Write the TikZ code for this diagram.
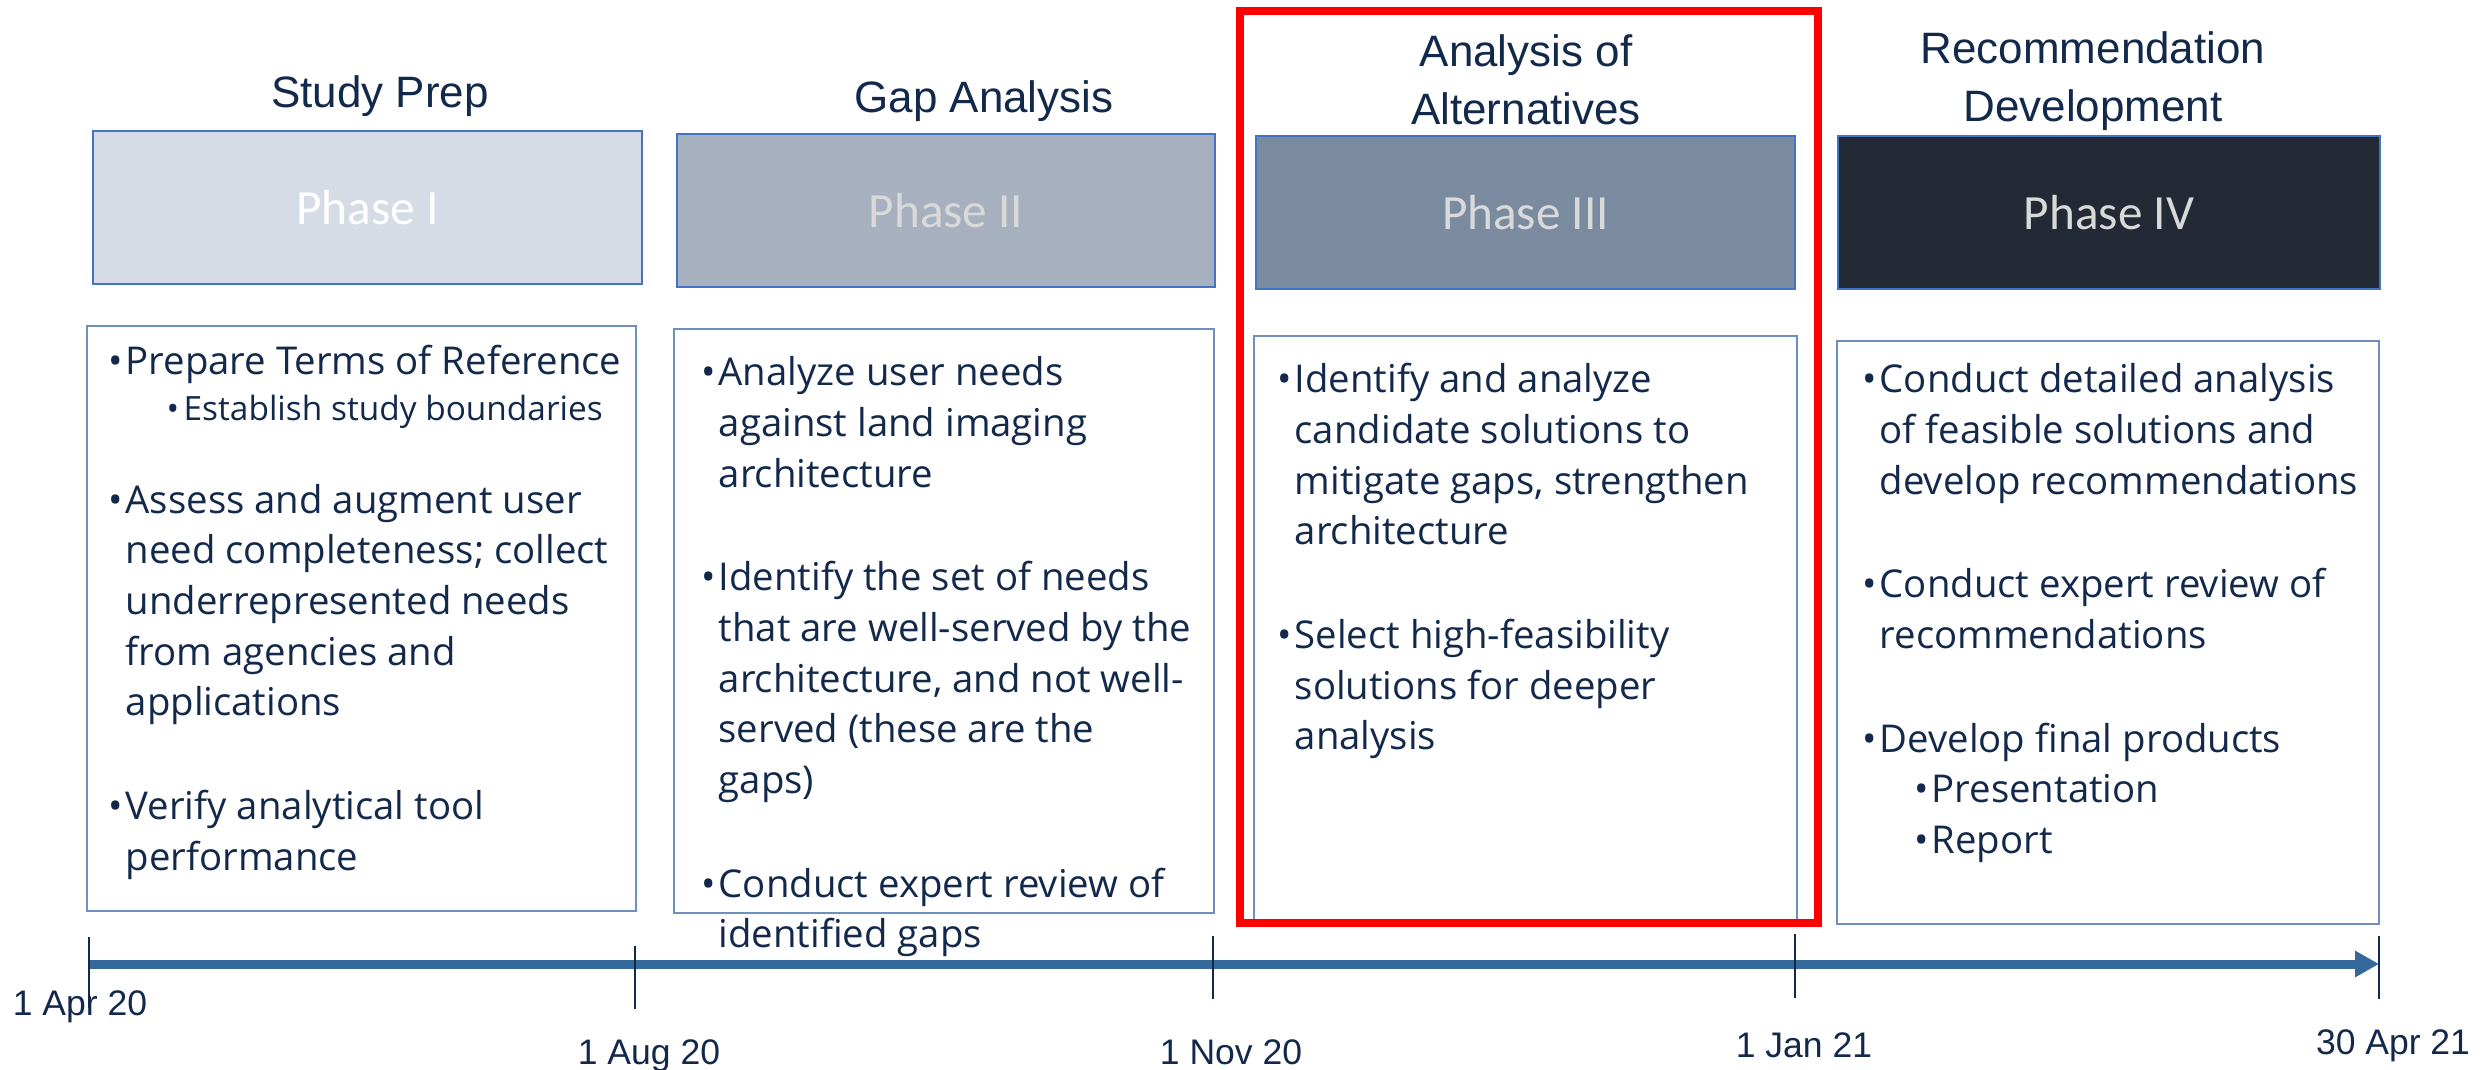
\documentclass[tikz,border=0pt]{standalone}
\usepackage{fontspec}
\setmainfont{Open Sans}
\newfontfamily\headfont{Liberation Sans}
\newfontfamily\phasefont{Carlito}
\usetikzlibrary{arrows.meta}
\newlength\px
\setlength\px{0.01cm}
\definecolor{navy}{HTML}{13294B}
\definecolor{edgeblue}{HTML}{4472C4}
\definecolor{boxblue}{HTML}{6F8FBE}
\definecolor{timeblue}{HTML}{36699B}
\definecolor{phaseA}{HTML}{D6DCE5}
\definecolor{phaseB}{HTML}{A7B0BE}
\definecolor{phaseC}{HTML}{7A8A9F}
\definecolor{phaseD}{HTML}{232A35}
\definecolor{phasetext}{HTML}{D9D9D9}
\newcommand{\bodyfont}{\fontsize{10.9pt}{14.4pt}\selectfont}
\newcommand{\bul}{\makebox[17\px][l]{\textbullet}}
\newcommand{\subbul}[1]{\hspace{#1\px}\makebox[17\px][l]{\textbullet}}
\newcommand{\gap}{\\[53\px]}

\begin{document}
\begin{tikzpicture}[x=0.01cm,y=-0.01cm,
    title/.style={font=\headfont\fontsize{12.5pt}{16.5pt}\selectfont,text=navy,align=center,inner sep=0pt,anchor=base},
    phase/.style={draw=edgeblue,line width=2\px,minimum height=153\px,inner sep=0pt,font=\phasefont\fontsize{14pt}{16pt}\selectfont},
    stepbox/.style={draw=boxblue,line width=2\px,inner sep=0pt},
    body/.style={anchor=base west,inner sep=0pt,text=navy,font=\bodyfont},
    date/.style={anchor=base,inner sep=0pt,text=navy,font=\headfont\fontsize{10.1pt}{12pt}\selectfont},
    datetick/.style={draw=navy,line width=2\px}]
    \useasboundingbox (0,0) rectangle (2484,1070);

    \node[title] (tprep) at (380,108) {Study Prep};
    \node[title] (tgap) at (984,113) {Gap Analysis};
    \node[title] (taoa) at (1526,125) {Analysis of\\Alternatives};
    \node[title] (trec) at (2093,122) {Recommendation\\Development};

    \node[phase,fill=phaseA,text=white,minimum width=549\px] (p1) at (367.5,207.5) {Phase I};
    \node[phase,fill=phaseB,text=phasetext,minimum width=538\px] (p2) at (946,211) {Phase II};
    \node[phase,fill=phaseC,text=phasetext,minimum width=539\px] (p3) at (1525.5,212.5) {Phase III};
    \node[phase,fill=phaseD,text=phasetext,minimum width=542\px] (p4) at (2109,212.5) {Phase IV};

    \node[stepbox,minimum width=549\px,minimum height=585\px] (c1) at (361.5,618.5) {};
    \node[stepbox,minimum width=540\px,minimum height=584\px] (c2) at (944,621) {};
    \node[stepbox,minimum width=543\px,minimum height=584\px] (c3) at (1525.5,628) {};
    \node[stepbox,minimum width=542\px,minimum height=583\px] (c4) at (2108,632.5) {};

    \node[body] (x1) at (108,374) {\begin{tabular}[t]{@{}l@{}l@{}}
        \bul & Prepare Terms of Reference\\[-4\px]
        & {\fontsize{9.5pt}{12pt}\selectfont\subbul{41}Establish study boundaries}\\[42\px]
        \bul & Assess and augment user\\
        & need completeness; collect\\
        & underrepresented needs\\
        & from agencies and\\
        & applications\gap
        \bul & Verify analytical tool\\
        & performance
    \end{tabular}};
    \node[body] (x2) at (701,386) {\begin{tabular}[t]{@{}l@{}l@{}}
        \bul & Analyze user needs\\
        & against land imaging\\
        & architecture\gap
        \bul & Identify the set of needs\\
        & that are well-served by the\\
        & architecture, and not well-\\
        & served (these are the\\
        & gaps)\gap
        \bul & Conduct expert review of\\
        & identified gaps
    \end{tabular}};
    \node[body] (x3) at (1277,393) {\begin{tabular}[t]{@{}l@{}l@{}}
        \bul & Identify and analyze\\
        & candidate solutions to\\
        & mitigate gaps, strengthen\\
        & architecture\gap
        \bul & Select high-feasibility\\
        & solutions for deeper\\
        & analysis
    \end{tabular}};
    \node[body] (x4) at (1862,393) {\begin{tabular}[t]{@{}l@{}l@{}}
        \bul & Conduct detailed analysis\\
        & of feasible solutions and\\
        & develop recommendations\gap
        \bul & Conduct expert review of\\
        & recommendations\gap
        \bul & Develop final products\\
        & \subbul{35}Presentation\\
        & \subbul{35}Report
    \end{tabular}};

    \node[draw=red,line width=8\px,minimum width=578\px,minimum height=912\px,inner sep=0pt] (focus) at (1529,467) {};

    \coordinate (start) at (89,964);
    \coordinate (end) at (2379,964);
    \draw[timeblue,line width=9\px,-{Triangle[length=6.8pt,width=7.1pt]}] (start) -- (end);
    \foreach \x/\a/\b in {89/937/1008,635/946/1009,1213/936/999,1795/934/998,2379/936/999}
        \draw[datetick] (\x,\a) -- (\x,\b);

    \node[date] (d1) at (80,1015) {1 Apr 20};
    \node[date] (d2) at (649,1064) {1 Aug 20};
    \node[date] (d3) at (1231,1064) {1 Nov 20};
    \node[date] (d4) at (1804,1057) {1 Jan 21};
    \node[date] (d5) at (2393,1054) {30 Apr 21};
\end{tikzpicture}
\end{document}
